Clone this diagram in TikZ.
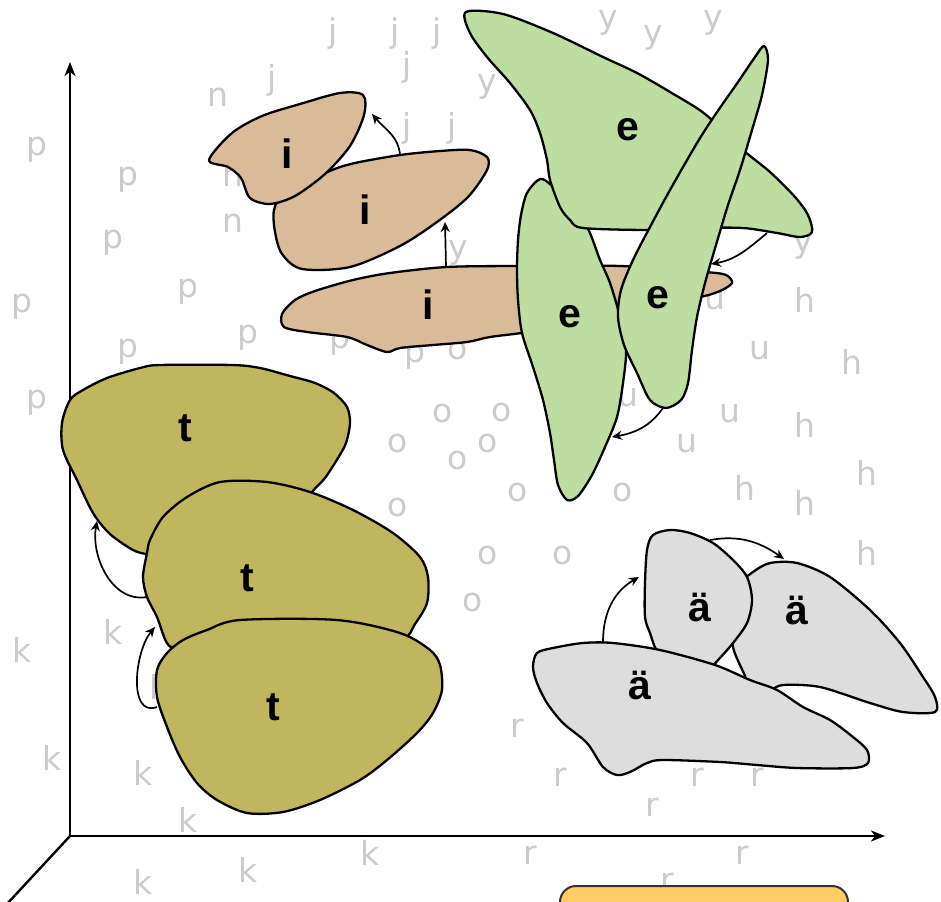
\documentclass[tikz,border=0pt]{standalone}
\usepackage{fontspec}
\setmainfont{Liberation Sans}
\newfontfamily\bgfont{DejaVu Sans}
\usetikzlibrary{arrows.meta}
\definecolor{tanc}{HTML}{D9BB99}
\definecolor{greenc}{HTML}{BEDDA0}
\definecolor{olivec}{HTML}{C0B65E}
\definecolor{grayc}{HTML}{DDDDDD}
\definecolor{orangec}{HTML}{FFCC66}
\definecolor{bgc}{HTML}{CCCCCC}
\begin{document}
\begin{tikzpicture}[x=1pt,y=-1pt,
  bgl/.style={text=bgc, font=\bgfont\fontsize{33}{33}\selectfont, inner sep=0pt},
  lbl/.style={font=\bfseries\fontsize{41}{41}\selectfont, inner sep=0pt},
  blob/.style={draw=black, line width=2.3pt, line join=round},
  conn/.style={draw=black, line width=1.7pt, -{Stealth[length=10pt,width=9pt]}},
  axisline/.style={draw=black, line width=2.4pt},
  axisarrow/.style={axisline, -{Stealth[length=14pt,width=11pt,inset=4pt]}}]
\useasboundingbox (0,0) rectangle (941,901);
\clip (0,0) rectangle (941,901);
% background letters
\foreach \t/\x/\y [count=\n] in {
  j/333/33, j/395/33, j/437/33, j/407/67, j/272/80, j/407/128, j/452/128,
  n/218/97, n/233/177, n/233/223,
  p/37/150, p/128/180, p/113/243, p/188/292, p/22/307, p/248/338, p/128/352, p/340/343, p/415/357, p/37/403,
  o/458/350, o/443/413, o/502/412, o/398/443, o/488/443, o/458/460, o/518/492, o/398/507, o/623/492, o/488/555, o/563/555, o/473/602,
  y/608/23, y/653/38, y/713/23, y/487/87, y/458/253, y/803/247,
  u/715/300, u/760/350, u/628/397, u/730/413, u/687/443,
  h/805/300, h/852/362, h/805/425, h/867/473, h/745/488, h/805/503, h/867/553,
  r/517/728, r/560/777, r/697/777, r/757/777, r/652/807, r/530/855, r/742/855, r/667/882,
  k/22/650, k/113/632, k/52/758, k/143/773, k/188/820, k/370/853, k/248/870, k/143/882, k/159/687}
  {\node[bgl] (bg\n) at (\x,\y) {\t};}
% axes
\coordinate (origin) at (70,836);
\coordinate (ytip) at (70,62);
\coordinate (xtip) at (885,836);
\coordinate (zend) at (6,905);
\draw[axisarrow] (origin) -- (ytip);
\draw[axisarrow] (origin) -- (xtip);
\draw[axisline] (origin) -- (zend);
% i blobs
\path[blob, fill=tanc] plot[smooth cycle, tension=0.5] coordinates {
  (282,314) (295,300) (315,291) (353,280) (390,273) (447,267) (520,266) (620,266)
  (705,272) (726,275) (732,283) (720,291) (700,297) (650,305) (580,325) (522,333)
  (490,337) (467,342) (433,345) (400,348) (387,352) (367,345) (347,337) (307,332) (284,327)};
\path[blob, fill=tanc] plot[smooth cycle, tension=0.5] coordinates {
  (284,192) (310,181) (332,170) (355,163) (400,155) (440,151) (470,150) (487,157)
  (487,170) (468,197) (437,222) (400,246) (350,267) (302,269) (282,254) (275,232) (274,210)};
\path[blob, fill=tanc] plot[smooth cycle, tension=0.5] coordinates {
  (209,160) (232,133) (262,116) (300,104) (340,93) (363,95) (364,115) (350,146)
  (325,174) (295,196) (270,204) (250,198) (241,178) (228,167)};
\node[lbl] (i1) at (287,154) {i};
\node[lbl] (i2) at (365,210) {i};
\node[lbl] (i3) at (428,305) {i};
% e blobs
\path[blob, fill=greenc] plot[smooth cycle, tension=0.5] coordinates {
  (540,179) (527,193) (521,215) (518,240) (517,270) (518,300) (522,333) (533,367)
  (543,400) (550,433) (554,460) (558,485) (567,500) (578,496) (592,475) (605,447)
  (617,417) (623,383) (626,350) (620,317) (610,283) (600,260) (587,227) (567,205) (552,186)};
\path[blob, fill=greenc] plot[smooth cycle, tension=0.5] coordinates {
  (466,12) (503,14) (553,33) (603,57) (637,73) (670,92) (705,114) (743,150) (770,172)
  (795,197) (808,215) (812,232) (800,237) (777,233) (743,228) (700,228) (650,230)
  (583,228) (570,220) (560,207) (550,180) (547,160) (540,133) (530,110) (510,83) (487,57) (470,33)};
\path[blob, fill=greenc] plot[smooth cycle, tension=0.5] coordinates {
  (764,46) (768,60) (762,95) (752,130) (740,170) (728,205) (716,245) (705,283) (697,317)
  (692,350) (688,383) (681,400) (666,408) (650,400) (637,373) (624,345) (618,317)
  (621,290) (633,260) (650,227) (670,190) (697,143) (715,115) (738,82) (755,57)};
\node[lbl] (e1) at (628,130) {e};
\node[lbl] (e2) at (570,317) {e};
\node[lbl] (e3) at (658,298) {e};
% t blobs
\path[blob, fill=olivec] plot[smooth cycle, tension=0.5] coordinates {
  (160,365) (232,365) (260,368) (290,376) (315,383) (334,393) (347,407) (350,423)
  (346,443) (338,458) (325,478) (312,492) (300,510) (220,540) (160,553) (147,554)
  (133,550) (110,534) (93,513) (77,480) (63,450) (62,423) (70,400) (83,390) (107,378) (140,368)};
\path[blob, fill=olivec] plot[smooth cycle, tension=0.5] coordinates {
  (220,482) (267,482) (310,492) (353,510) (393,533) (420,557) (428,577) (427,603)
  (415,624) (402,640) (350,650) (250,650) (180,648) (167,643) (157,617) (147,597)
  (143,577) (147,553) (150,540) (163,517) (187,497)};
\path[blob, fill=olivec] plot[smooth cycle, tension=0.5] coordinates {
  (240,620) (337,620) (400,633) (430,650) (440,665) (442,690) (433,713) (417,733)
  (387,760) (360,780) (320,800) (283,812) (247,813) (217,800) (197,783) (180,757)
  (167,727) (157,697) (157,670) (167,653) (183,640) (207,630)};
\node[lbl] (t1) at (185,428) {t};
\node[lbl] (t2) at (247,578) {t};
\node[lbl] (t3) at (273,707) {t};
% ae blobs
\path[blob, fill=grayc] plot[smooth cycle, tension=0.5] coordinates {
  (740,585) (753,572) (770,563) (797,563) (830,577) (870,610) (900,643) (923,677)
  (935,697) (935,712) (903,712) (870,703) (820,687) (783,685) (770,690) (750,690)
  (745,676) (733,647) (735,620)};
\path[blob, fill=grayc] plot[smooth cycle, tension=0.5] coordinates {
  (670,530) (690,533) (713,543) (733,560) (747,577) (752,600) (747,623) (733,643)
  (718,660) (705,672) (680,666) (658,652) (650,633) (645,617) (645,583) (647,550) (653,535)};
\path[blob, fill=grayc] plot[smooth cycle, tension=0.5] coordinates {
  (537,653) (553,648) (583,643) (613,643) (660,650) (715,665) (750,680) (777,690)
  (803,707) (830,720) (853,737) (867,750) (868,763) (853,768) (797,768) (757,765)
  (720,762) (663,760) (647,763) (630,772) (617,775) (603,767) (587,743) (563,723)
  (547,703) (537,683) (533,667)};
\node[lbl] (a1) at (700,607) {ä};
\node[lbl] (a2) at (797,610) {ä};
\node[lbl] (a3) at (640,685) {ä};
% connectors
\coordinate (ci2) at (400,155); \coordinate (ci1) at (372,114);
\coordinate (ci3) at (446,267); \coordinate (ci2b) at (445,222);
\coordinate (ce1) at (767,233); \coordinate (ce3) at (711,264);
\coordinate (ce3b) at (663,408); \coordinate (ce2) at (612,437);
\coordinate (ct2) at (147,597); \coordinate (ct1) at (97,521);
\coordinate (ct3) at (157,707); \coordinate (ct2b) at (155,627);
\coordinate (ca3) at (603,642); \coordinate (ca1) at (639,577);
\coordinate (ca1b) at (710,540); \coordinate (ca2) at (784,559);
\draw[conn] (ci2) to[out=95,in=-50] (ci1);
\draw[conn] (ci3) -- (ci2b);
\draw[conn] (ce1) to[out=220,in=10] (ce3);
\draw[conn] (ce3b) to[out=235,in=10] (ce2);
\draw[conn] (ct2) to[out=190,in=-100] (ct1);
\draw[conn] (ct3) to[out=200,in=230] (ct2b);
\draw[conn] (ca3) to[out=90,in=210] (ca1);
\draw[conn] (ca1b) to[out=10,in=145] (ca2);
% bottom box
\path[draw=black!80, line width=2pt, fill=orangec, rounded corners=16pt] (560,886) rectangle (848,940);
\end{tikzpicture}
\end{document}
